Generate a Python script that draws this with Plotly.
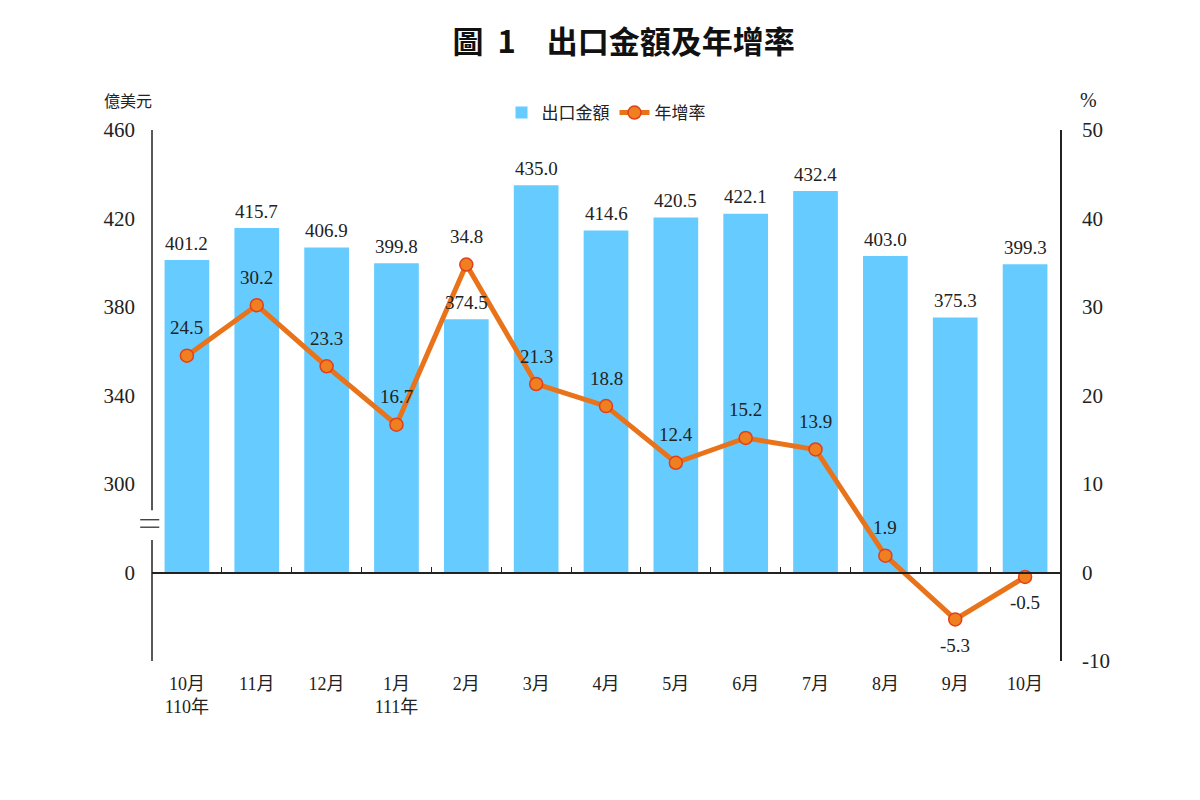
import plotly.graph_objects as go

months = ["10月<br>110年", "11月", "12月", "1月<br>111年", "2月", "3月", "4月",
          "5月", "6月", "7月", "8月", "9月", "10月"]
exports = [401.2, 415.7, 406.9, 399.8, 374.5, 435.0, 414.6, 420.5, 422.1, 432.4, 403.0, 375.3, 399.3]
growth = [24.5, 30.2, 23.3, 16.7, 34.8, 21.3, 18.8, 12.4, 15.2, 13.9, 1.9, -5.3, -0.5]
left_ticks = [260, 300, 340, 380, 420, 460]
left_ticktext = ["0", "300", "340", "380", "420", "460"]
right_ticks = [-10, 0, 10, 20, 30, 40, 50]
axis_base = 260  # broken-axis origin ("0" label)

SERIF = "Liberation Serif, Noto Sans CJK TC"
CJK = "Noto Sans CJK TC"
BLUE = "#66CCFF"
ORANGE = "#E8731A"
n = len(months)

fig = go.Figure()
fig.add_trace(go.Bar(
    x=months, y=[v - axis_base for v in exports], base=axis_base,
    marker=dict(color=BLUE, line=dict(width=0)), name="出口金額", yaxis="y",
))
fig.add_trace(go.Scatter(
    x=months, y=growth, mode="lines+markers", name="年增率", yaxis="y2",
    line=dict(color=ORANGE, width=5),
    marker=dict(size=13, color="#F07F1F", line=dict(color="#E2401A", width=1.5)),
))
# invisible helper trace so the zero-line axis (x2) is rendered
fig.add_trace(go.Scatter(
    x=list(range(n)), y=[axis_base] * n, xaxis="x2", yaxis="y", mode="markers",
    marker=dict(opacity=0), showlegend=False, hoverinfo="skip",
))

annotations = []
for m, v in zip(months, exports):
    annotations.append(dict(x=m, y=v, xref="x", yref="y", text=f"{v:.1f}", showarrow=False,
                            yshift=17, font=dict(family=SERIF, size=19, color="#222")))
for m, g in zip(months, growth):
    below = g < 0
    annotations.append(dict(x=m, y=g, xref="x", yref="y2", text=f"{g:.1f}", showarrow=False,
                            yshift=-26 if below else 28, font=dict(family=SERIF, size=19, color="#222")))
annotations.append(dict(x=-0.026, y=1.056, xref="paper", yref="paper", text="億美元", showarrow=False,
                        xanchor="center", yanchor="middle", font=dict(family=CJK, size=16, color="#222")))
annotations.append(dict(x=1.031, y=1.056, xref="paper", yref="paper", text="%", showarrow=False,
                        xanchor="center", yanchor="middle", font=dict(family=SERIF, size=20, color="#222")))

shapes = [
    # left axis drawn in two segments with a break
    dict(type="line", xref="paper", yref="paper", x0=0, x1=0, y0=0, y1=0.228, line=dict(color="#222", width=1.5)),
    dict(type="line", xref="paper", yref="paper", x0=0, x1=0, y0=0.284, y1=1, line=dict(color="#222", width=1.5)),
    dict(type="line", xref="paper", yref="paper", x0=-0.013, x1=0.008, y0=0.266, y1=0.266, line=dict(color="#222", width=1.2)),
    dict(type="line", xref="paper", yref="paper", x0=-0.013, x1=0.008, y0=0.252, y1=0.252, line=dict(color="#222", width=1.2)),
]

fig.update_layout(
    width=1200, height=800,
    paper_bgcolor="white", plot_bgcolor="white",
    margin=dict(l=144, r=148, t=122, b=147, autoexpand=False),
    title=dict(text="<b>圖  1　出口金額及年增率</b>", x=0.513, xanchor="center", y=1 - 34 / 800, yanchor="middle",
               font=dict(family=CJK, size=31, color="#111")),
    bargap=0.36,
    showlegend=True,
    legend=dict(orientation="h", x=0.5, xanchor="center", y=1.032, yanchor="middle",
                font=dict(family=CJK, size=17, color="#222"), itemwidth=30, bgcolor="rgba(0,0,0,0)"),
    xaxis=dict(type="category", range=[-0.5, n - 0.5], showline=False, ticks="", showgrid=False,
               tickfont=dict(family=SERIF, size=18, color="#222"), ticklabelstandoff=10),
    xaxis2=dict(overlaying="x", anchor="free", position=1 / 6, range=[-0.5, n - 0.5],
                showline=True, linecolor="#222", linewidth=1.5, ticks="inside", ticklen=5,
                tickcolor="#222", tickvals=[i + 0.5 for i in range(n - 1)],
                showticklabels=False, showgrid=False, zeroline=False),
    yaxis=dict(range=[220, 460], tickvals=left_ticks, ticktext=left_ticktext, showgrid=False,
               showline=False, zeroline=False, ticks="", ticklabelstandoff=16,
               tickfont=dict(family=SERIF, size=21, color="#222")),
    yaxis2=dict(range=[-10, 50], tickvals=right_ticks, ticktext=[str(t) for t in right_ticks],
                overlaying="y", side="right", showgrid=False,
                showline=True, linecolor="#222", linewidth=1.5, zeroline=False, ticks="",
                ticklabelstandoff=16, tickfont=dict(family=SERIF, size=21, color="#222")),
    annotations=annotations,
    shapes=shapes,
)

fig.write_html("out.html")
